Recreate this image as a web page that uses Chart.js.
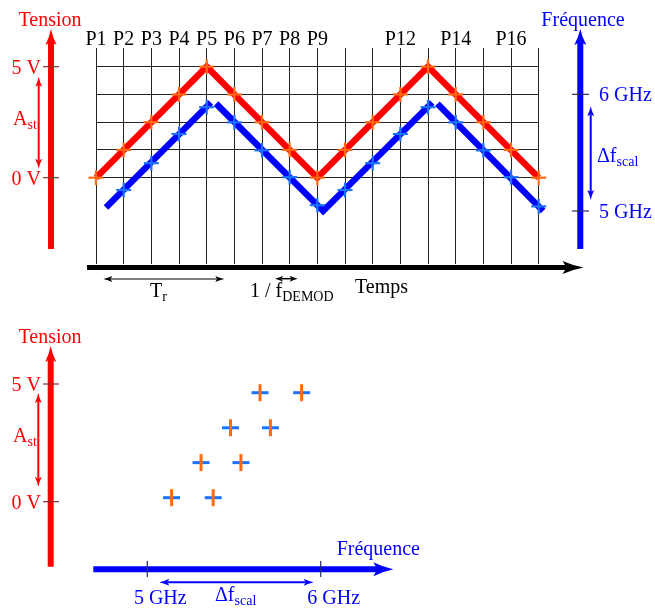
<!DOCTYPE html>
<html>
<head>
<meta charset="utf-8">
<script src="https://cdn.jsdelivr.net/npm/chart.js@4.4.1/dist/chart.umd.min.js"></script>
<style>
  body { margin: 0; background: #fff; }
  canvas { position: absolute; left: 0; top: 0; }
</style>
</head>
<body>
<canvas id="topChart" width="655" height="610"></canvas>
<canvas id="bottomChart" width="655" height="610"></canvas>
<script>
// top chart: tension (red) and fréquence (blue) against the P steps
const periodLabels = ['P1', 'P2', 'P3', 'P4', 'P5', 'P6', 'P7', 'P8', 'P9', '', '', 'P12', '', 'P14', '', 'P16', ''];
const tension = [0, 1.25, 2.5, 3.75, 5, 3.75, 2.5, 1.25, 0, 1.25, 2.5, 3.75, 5, 3.75, 2.5, 1.25, 0];
const freqMarks = [null, 5.18, 5.41, 5.66, 5.89, 5.76, 5.52, 5.29, 5.05, 5.18, 5.41, 5.66, 5.89, 5.76, 5.52, 5.29, 5.04];
const freqLineX = [1.36, 5.15, 5.25, 5.34, 9.21, 13.15, 13.25, 13.34, 17.16];
const freqLineY = [5.03, 5.93, null, 5.92, 5.0, 5.93, null, 5.92, 5.0];
const gridTension = [0, 1.25, 2.5, 3.75, 5];
const tensionTickValues = [5, 0];
const tensionTickLabels = ['5 V', '0 V'];
const freqTickValues = [6, 5];
const freqTickLabels = ['6 GHz', '5 GHz'];

// bottom chart: tension against fréquence
const scatterFreq = [5.14, 5.38, 5.31, 5.54, 5.48, 5.71, 5.65, 5.89];
const scatterTension = [0.17, 0.17, 1.66, 1.66, 3.14, 3.14, 4.63, 4.63];

const RED = '#ff0000';
const BLUE = '#0000ff';
const ORANGE = '#ff6a10';
const LIGHTBLUE = '#1a73ff';
const FONT = '"Liberation Serif", "DejaVu Serif", serif';

function text(ctx, s, x, y, color, align, size) {
    ctx.font = (size || 20) + 'px ' + FONT;
    ctx.fillStyle = color;
    ctx.textAlign = align || 'left';
    ctx.textBaseline = 'alphabetic';
    ctx.fillText(s, x, y);
}

// main text with a small subscript right after it
function subText(ctx, main, sub, x, y, color) {
    text(ctx, main, x, y, color);
    const w = ctx.measureText(main).width;
    text(ctx, sub, x + w, y + 4, color, 'left', 14);
}

function head(ctx, x, y, angle, len, half, color) {
    ctx.save();
    ctx.translate(x, y);
    ctx.rotate(angle);
    ctx.beginPath();
    ctx.moveTo(0, 0);
    ctx.quadraticCurveTo(-len * 0.5, -half * 0.3, -len, -half);
    ctx.lineTo(-len * 0.8, 0);
    ctx.lineTo(-len, half);
    ctx.quadraticCurveTo(-len * 0.5, half * 0.3, 0, 0);
    ctx.closePath();
    ctx.fillStyle = color;
    ctx.fill();
    ctx.restore();
}

function arrow(ctx, x1, y1, x2, y2, w, len, half, color, both) {
    const a = Math.atan2(y2 - y1, x2 - x1);
    const c = Math.cos(a), s = Math.sin(a);
    const back = len * 0.8;
    ctx.save();
    ctx.strokeStyle = color;
    ctx.lineWidth = w;
    ctx.lineCap = 'butt';
    ctx.beginPath();
    ctx.moveTo(both ? x1 + c * back : x1, both ? y1 + s * back : y1);
    ctx.lineTo(x2 - c * back, y2 - s * back);
    ctx.stroke();
    ctx.restore();
    head(ctx, x2, y2, a, len, half, color);
    if (both) head(ctx, x1, y1, a + Math.PI, len, half, color);
}

function hLine(ctx, x1, x2, y, color, w) {
    ctx.save();
    ctx.strokeStyle = color;
    ctx.lineWidth = w || 1;
    ctx.beginPath();
    ctx.moveTo(x1, y);
    ctx.lineTo(x2, y);
    ctx.stroke();
    ctx.restore();
}

function vLine(ctx, x, y1, y2, color, w) {
    ctx.save();
    ctx.strokeStyle = color;
    ctx.lineWidth = w || 1;
    ctx.beginPath();
    ctx.moveTo(x, y1);
    ctx.lineTo(x, y2);
    ctx.stroke();
    ctx.restore();
}

// "+" markers built from a horizontal and a vertical dash
function plusMarks(label, points, color, axis, order) {
    const base = {
        data: points,
        yAxisID: axis,
        showLine: false,
        pointStyle: 'line',
        pointRadius: 7.5,
        pointBorderWidth: 2.2,
        pointBorderColor: color,
        clip: false,
        order: order
    };
    return [
        Object.assign({ label: label + ' h', rotation: 0 }, base),
        Object.assign({ label: label + ' v', rotation: 90 }, base)
    ];
}

const topDecor = {
    id: 'topDecor',
    afterDraw(chart) {
        const ctx = chart.ctx;
        const x = chart.scales.x, y = chart.scales.y, yf = chart.scales.yf;

        // P labels above the grid
        periodLabels.forEach((p, i) => {
            if (p) text(ctx, p, x.getPixelForValue(i + 1), 45, '#000', 'center');
        });

        // tension axis (left)
        text(ctx, 'Tension', 50, 26, RED, 'center');
        arrow(ctx, 51, 249, 51, 29, 6, 16, 5.5, RED);
        tensionTickValues.forEach((v, i) => {
            const py = y.getPixelForValue(v);
            hLine(ctx, 43, 59, py, '#8a2a2a', 1.2);
            text(ctx, tensionTickLabels[i], 41, py + 7, RED, 'right');
        });
        arrow(ctx, 38.7, y.getPixelForValue(0) - 9, 38.7, y.getPixelForValue(5) + 10, 2, 10, 3.5, RED, true);
        subText(ctx, 'A', 'st', 13, 125, RED);

        // fréquence axis (right)
        text(ctx, 'Fréquence', 583, 26, BLUE, 'center');
        arrow(ctx, 580.3, 249, 580.3, 29, 6, 16, 6, BLUE);
        freqTickValues.forEach((v, i) => {
            const py = yf.getPixelForValue(v);
            hLine(ctx, 572, 589, py, '#2a2a70', 1.2);
            text(ctx, freqTickLabels[i], 599, py + 7, BLUE, 'left');
        });
        arrow(ctx, 590.7, yf.getPixelForValue(5) - 11, 590.7, yf.getPixelForValue(6) + 12, 2, 10, 3.5, BLUE, true);
        subText(ctx, 'Δf', 'scal', 597, 162, BLUE);

        // time axis
        arrow(ctx, 87, 267.5, 583.5, 267.5, 5, 21, 6.5, '#000');
        text(ctx, 'Temps', 355, 292.7, '#000');
        arrow(ctx, 103.3, 279, 224.3, 279, 1, 9, 3, '#000', true);
        subText(ctx, 'T', 'r', 150, 296.7, '#000');
        arrow(ctx, 275, 278.7, 297.7, 278.7, 1.5, 8, 3, '#000', true);
        subText(ctx, '1 / f', 'DEMOD', 250, 296.7, '#000');
    }
};

const bottomDecor = {
    id: 'bottomDecor',
    afterDraw(chart) {
        const ctx = chart.ctx;
        const x = chart.scales.x, y = chart.scales.y;

        text(ctx, 'Tension', 50, 343.3, RED, 'center');
        arrow(ctx, 50.7, 566.7, 50.7, 346, 6, 16, 5.5, RED);
        tensionTickValues.forEach((v, i) => {
            const py = y.getPixelForValue(v);
            hLine(ctx, 43, 59, py, '#8a2a2a', 1.2);
            text(ctx, tensionTickLabels[i], 41, py + 7, RED, 'right');
        });
        arrow(ctx, 38.3, y.getPixelForValue(0) - 15, 38.3, y.getPixelForValue(5) + 9, 2, 10, 3.5, RED, true);
        subText(ctx, 'A', 'st', 13, 441.7, RED);

        arrow(ctx, 93.3, 569.3, 393.3, 569.3, 6, 20, 7, BLUE);
        text(ctx, 'Fréquence', 336.7, 555, BLUE);
        freqTickValues.forEach((v, i) => {
            const px = x.getPixelForValue(v);
            vLine(ctx, px, 561, 577, '#2a2a70', 1.2);
            text(ctx, freqTickLabels[i], px + 13, 604, BLUE, 'center');
        });
        arrow(ctx, x.getPixelForValue(5) + 12, 582.3, x.getPixelForValue(6) - 7, 582.3, 2, 10, 3.5, BLUE, true);
        subText(ctx, 'Δf', 'scal', 215, 600.7, BLUE);
    }
};

const tensionPoints = tension.map((v, i) => ({ x: i + 1, y: v }));
const freqPoints = freqMarks.map((v, i) => ({ x: i + 1, y: v }));

new Chart(document.getElementById('topChart'), {
    type: 'line',
    data: {
        datasets: [{
            label: 'Tension',
            data: tensionPoints,
            borderColor: RED,
            borderWidth: 6.5,
            borderJoinStyle: 'miter',
            borderCapStyle: 'butt',
            pointRadius: 0,
            tension: 0,
            clip: false,
            order: 4
        }, {
            label: 'Fréquence',
            data: freqLineX.map((v, i) => ({ x: v, y: freqLineY[i] })),
            yAxisID: 'yf',
            borderColor: BLUE,
            borderWidth: 6.5,
            borderJoinStyle: 'miter',
            borderCapStyle: 'butt',
            pointRadius: 0,
            spanGaps: false,
            tension: 0,
            clip: false,
            order: 3
        },
        ...plusMarks('Tension points', tensionPoints, ORANGE, 'y', 2),
        ...plusMarks('Fréquence points', freqPoints, LIGHTBLUE, 'yf', 1)]
    },
    options: {
        responsive: false,
        animation: false,
        events: [],
        layout: { padding: { left: 96, right: 116.3, top: 48, bottom: 346 } },
        plugins: { legend: { display: false }, tooltip: { enabled: false } },
        scales: {
            x: {
                type: 'linear',
                min: 1,
                max: 17,
                afterBuildTicks: (scale) => { scale.ticks = periodLabels.map((p, i) => ({ value: i + 1 })); },
                ticks: { display: false },
                border: { display: false },
                grid: { color: '#222', lineWidth: 1, drawTicks: false }
            },
            y: {
                type: 'linear',
                min: -3.887,
                max: 5.842,
                afterBuildTicks: (scale) => { scale.ticks = gridTension.map(v => ({ value: v })); },
                ticks: { display: false },
                border: { display: false },
                grid: { color: '#222', lineWidth: 1, drawTicks: false }
            },
            yf: {
                type: 'linear',
                display: false,
                min: 4.546,
                max: 6.397
            }
        }
    },
    plugins: [topDecor]
});

new Chart(document.getElementById('bottomChart'), {
    type: 'scatter',
    data: {
        datasets: [{
            label: 'marques orange',
            data: scatterFreq.map((v, i) => ({ x: v, y: scatterTension[i] })),
            pointStyle: 'line',
            rotation: 90,
            pointRadius: 8.5,
            pointBorderWidth: 3,
            pointBorderColor: ORANGE,
            clip: false,
            order: 1
        }, {
            label: 'marques bleues',
            data: scatterFreq.map((v, i) => ({ x: v, y: scatterTension[i] })),
            pointStyle: 'line',
            pointRadius: 8.5,
            pointBorderWidth: 3,
            pointBorderColor: LIGHTBLUE,
            clip: false,
            order: 2
        }]
    },
    options: {
        responsive: false,
        animation: false,
        events: [],
        layout: { padding: { left: 147.3, right: 334.3, top: 384, bottom: 108.3 } },
        plugins: { legend: { display: false }, tooltip: { enabled: false } },
        scales: {
            x: { type: 'linear', min: 5, max: 6, display: false },
            y: { type: 'linear', min: 0, max: 5, display: false }
        }
    },
    plugins: [bottomDecor]
});
</script>
</body>
</html>
